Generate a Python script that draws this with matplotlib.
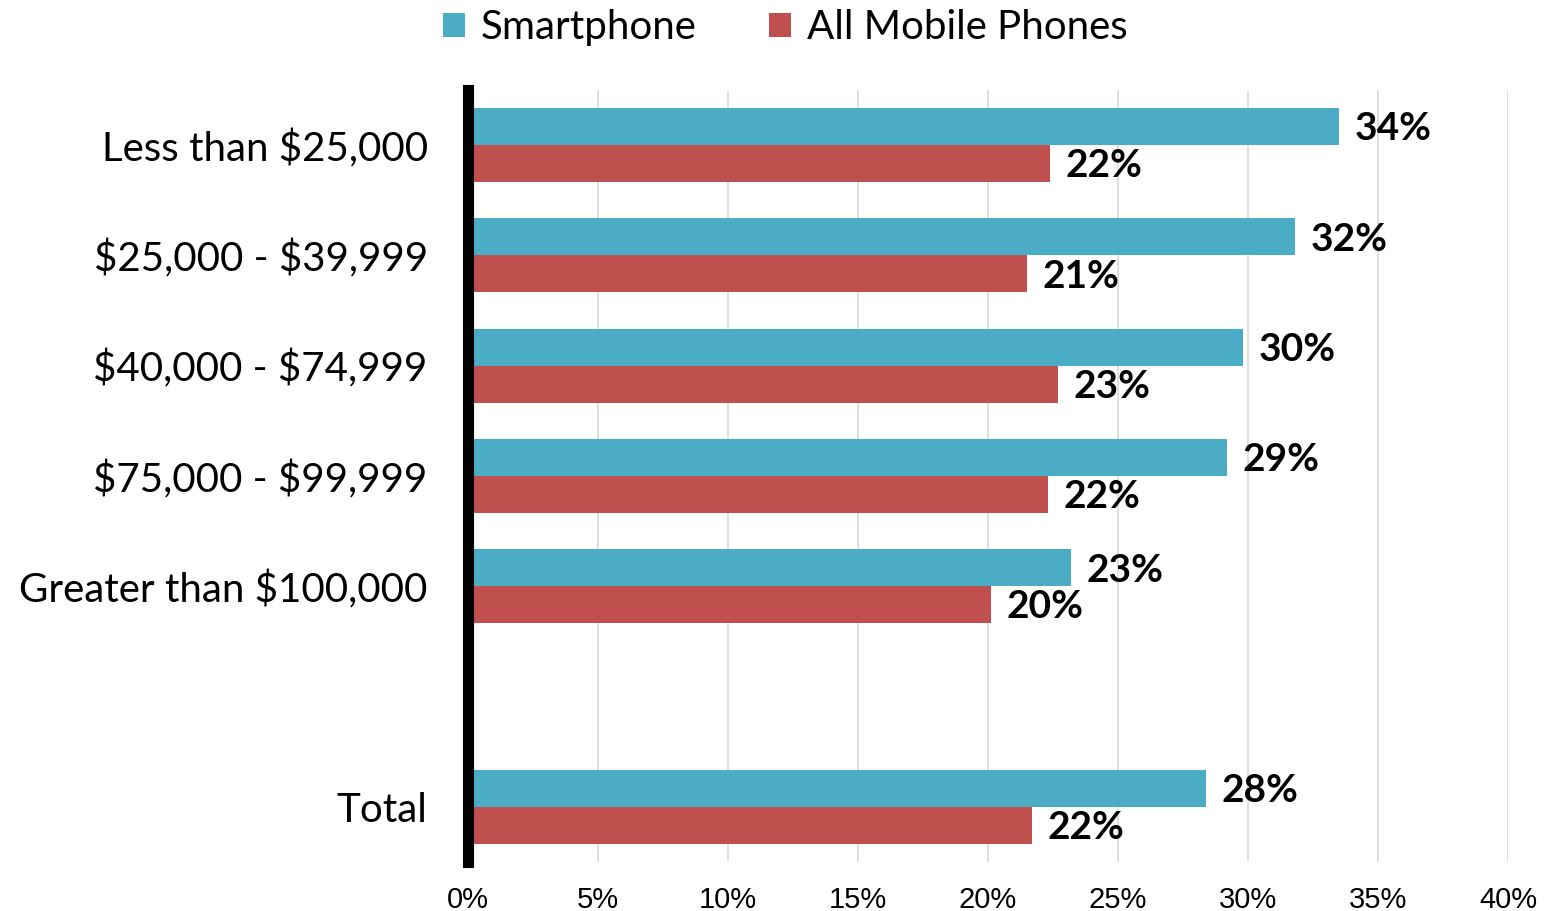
import numpy as np
import matplotlib.pyplot as plt

plt.rcParams["text.parse_math"] = False

categories = ["Less than $25,000", "$25,000 - $39,999", "$40,000 - $74,999",
              "$75,000 - $99,999", "Greater than $100,000", "", "Total"]
smartphone = [33.5, 31.8, 29.8, 29.2, 23.2, np.nan, 28.4]
all_mobile = [22.4, 21.5, 22.7, 22.3, 20.1, np.nan, 21.7]
smart_labels = ["34%", "32%", "30%", "29%", "23%", "", "28%"]
mobile_labels = ["22%", "21%", "23%", "22%", "20%", "", "22%"]
xticks = [0, 5, 10, 15, 20, 25, 30, 35, 40]

blue = "#4BACC6"
red = "#C0504D"
cat_font = "Lato"

fig = plt.figure(figsize=(15.46, 9.11), dpi=100)
ax = fig.add_axes([0.3027, 0.0538, 0.6727, 0.8474])

y = np.arange(len(categories))
h = 0.335
b1 = ax.barh(y - h / 2, smartphone, height=h, color=blue, label="Smartphone", zorder=2)
b2 = ax.barh(y + h / 2, all_mobile, height=h, color=red, label="All Mobile Phones", zorder=2)

for i in range(len(categories)):
    if smart_labels[i]:
        ax.text(smartphone[i] + 0.6, y[i] - h / 2 + 0.02, smart_labels[i], va="center", ha="left",
                fontsize=28, fontweight="bold", family=cat_font)
        ax.text(all_mobile[i] + 0.6, y[i] + h / 2 + 0.02, mobile_labels[i], va="center", ha="left",
                fontsize=28, fontweight="bold", family=cat_font)

ax.set_xlim(0, 40)
ax.set_ylim(6.5, -0.5)
ax.set_xticks(xticks)
ax.set_xticklabels([f"{t}%" for t in xticks], fontsize=21, family="Liberation Sans")
ax.set_yticks(y)
ax.set_yticklabels(categories, fontsize=29, family=cat_font)
ax.tick_params(axis="both", length=0)
ax.tick_params(axis="x", pad=17)
ax.tick_params(axis="y", pad=29)

ax.grid(axis="x", color="#d9d9d9", linewidth=1.2, zorder=0)
for s in ["top", "right", "bottom"]:
    ax.spines[s].set_visible(False)
ax.spines["left"].set_linewidth(8)
ax.spines["left"].set_color("black")
ax.spines["left"].set_zorder(3)

leg = fig.legend(handles=[b1, b2], loc="upper center", bbox_to_anchor=(0.508, 1.03), ncol=2,
                 frameon=False, prop={"family": cat_font, "size": 29},
                 handlelength=0.55, handleheight=0.55, handletextpad=0.4, columnspacing=1.8)

fig.savefig("out.png", dpi=100)
